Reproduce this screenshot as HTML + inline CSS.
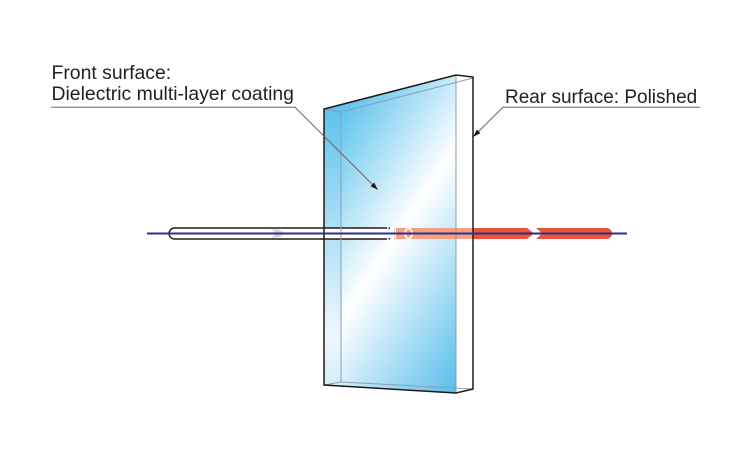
<!DOCTYPE html>
<html>
<head>
<meta charset="utf-8">
<style>
  html, body { margin: 0; padding: 0; background: #ffffff; }
  svg { display: block; }
  text { font-family: "Liberation Sans", Arial, sans-serif; fill: #231f20; }
</style>
</head>
<body>
<svg width="750" height="450" viewBox="0 0 750 450" xmlns="http://www.w3.org/2000/svg">
  <defs>
    <linearGradient id="face" gradientUnits="userSpaceOnUse" x1="326" y1="134" x2="536" y2="274">
      <stop offset="0" stop-color="#5ec3ee"/>
      <stop offset="0.46" stop-color="#ffffff"/>
      <stop offset="1" stop-color="#55bdea"/>
    </linearGradient>
    <linearGradient id="strip" gradientUnits="userSpaceOnUse" x1="324" y1="110" x2="345" y2="385">
      <stop offset="0" stop-color="#5cc3ee"/>
      <stop offset="0.45" stop-color="#b0e0f6"/>
      <stop offset="0.82" stop-color="#eef8fd"/>
      <stop offset="1" stop-color="#d2edfa"/>
    </linearGradient>
  </defs>

  <!-- Glass fills -->
  <polygon points="324,109 456,75 473,77 473,389 456,393 324,385" fill="url(#face)"/>
  <polygon points="324,109 341,112 341,382 324,385" fill="url(#strip)"/>
  <polygon points="456,75 473,77 473,389 456,393" fill="#ffffff"/>

  <!-- Beam: incoming tube -->
  <path d="M387,228 H174.5 A5.5,5.5 0 0 0 174.5,239 H387" fill="#ffffff" stroke="#231815" stroke-width="1.4"/>
  <polygon points="271,229.5 279,229.5 285,233.5 279,237.5 271,237.5 276,233.5" fill="#d4d4d4"/>
  <rect x="388.5" y="227.5" width="1.5" height="1.5" fill="#231815"/>
  <rect x="388.5" y="238" width="1.5" height="1.5" fill="#231815"/>

  <!-- Salmon band inside glass -->
  <rect x="394" y="228" width="79" height="11" fill="#f4a083"/>
  <rect x="394.5" y="228.5" width="1.6" height="10" fill="#ffffff"/>
  <ellipse cx="408.5" cy="233.5" rx="3.6" ry="5" fill="none" stroke="#ffffff" stroke-width="1.6"/>

  <!-- Red outgoing band -->
  <polygon points="473,228 527,228 534,233.5 527,239 473,239" fill="#e9553b"/>
  <path d="M536,228 H606.5 A5.5,5.5 0 0 1 606.5,239 H536 L542,233.5 Z" fill="#e9553b"/>

  <!-- Glass lines -->
  <g fill="none" stroke="#8c9cb8" stroke-width="1">
    <line x1="341" y1="112" x2="473" y2="78"/>
    <line x1="341" y1="112" x2="341" y2="382"/>
    <line x1="341" y1="382" x2="473" y2="389"/>
    <line x1="324" y1="109" x2="341" y2="112"/>
    <line x1="324" y1="385" x2="341" y2="382"/>
  </g>
  <line x1="456" y1="75" x2="456" y2="393" stroke="#9a9a9a" stroke-width="1"/>
  <polygon points="324,109 456,75 473,77 473,389 456,393 324,385" fill="none" stroke="#231815" stroke-width="1.5" stroke-linejoin="miter"/>

  <!-- Navy beam axis -->
  <line x1="147" y1="233.5" x2="627" y2="233.5" stroke="#2b2f8e" stroke-width="2"/>

  <!-- Leaders -->
  <polyline points="51,107.3 295,107.3 374,186" fill="none" stroke="#666666" stroke-width="1"/>
  <polygon points="378,190 374.1,182.5 370.5,186.1" fill="#231815"/>
  <polyline points="700,107.3 503,107.3 477,133" fill="none" stroke="#666666" stroke-width="1"/>
  <polygon points="473,137 480.4,133.1 476.9,129.6" fill="#231815"/>

  <!-- Labels -->
  <text x="51.5" y="79" font-size="19.4">Front surface:</text>
  <text x="51.5" y="100" font-size="19.4">Dielectric multi-layer coating</text>
  <text x="505" y="103" font-size="19">Rear surface: Polished</text>
</svg>
</body>
</html>
